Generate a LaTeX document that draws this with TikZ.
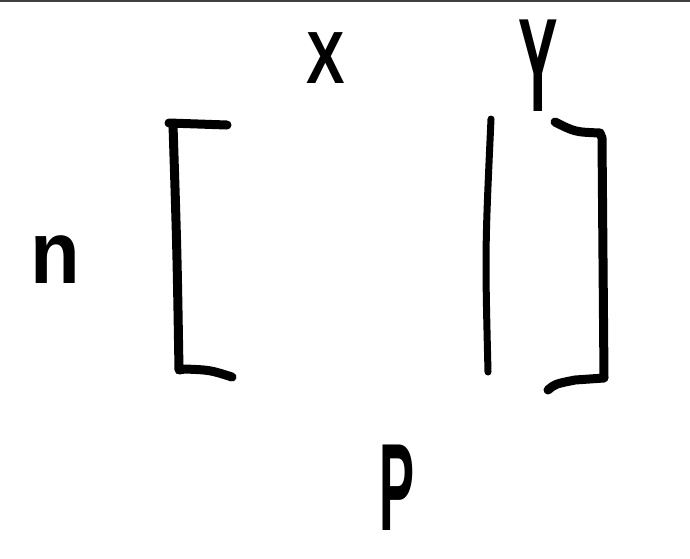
\documentclass[tikz,border=0pt]{standalone}
\usepackage{fontspec}
\setmainfont{Liberation Sans}

\begin{document}
\begin{tikzpicture}[x=1pt, y=-1pt,
		pen/.style={line width=9pt, line cap=round, line join=round},
		letter/.style={inner sep=0pt, font=\fontsize{74}{80}\selectfont\bfseries}]
		%%%%% START %%%%%
		
		\useasboundingbox (0, 0) rectangle (690, 558);
		\draw[line width=1.5pt, color=black!75] (0, 0.75) -- (690, 0.75);
		
		\node[letter] (colx) at (326, 58) {\scalebox{0.78}[1]{X}};
		\node[letter] (coly) at (538, 66) {\scalebox{0.8}[1.8]{Y}};
		\node[letter] (rows) at (55, 260) {\scalebox{1.1}[1.2]{n}};
		\node[letter] (cols) at (397, 488) {\scalebox{0.71}[1.68]{P}};
		
		\draw[pen] (169, 123) -- (227, 125);
		\draw[pen] (173, 125) .. controls (177, 250) .. (179, 370) -- (185, 369) .. controls (210, 370) .. (232, 377);
		
		\draw[pen, line width=7pt] (491, 119) .. controls (485, 250) .. (488, 372);
		
		\draw[pen] (555, 122) .. controls (575, 132) .. (600, 133) -- (602, 138) .. controls (603, 260) .. (604, 378) -- (575, 380) .. controls (555, 384) .. (548, 390);
		
		%%%%% END %%%%%
	\end{tikzpicture}
\end{document}
